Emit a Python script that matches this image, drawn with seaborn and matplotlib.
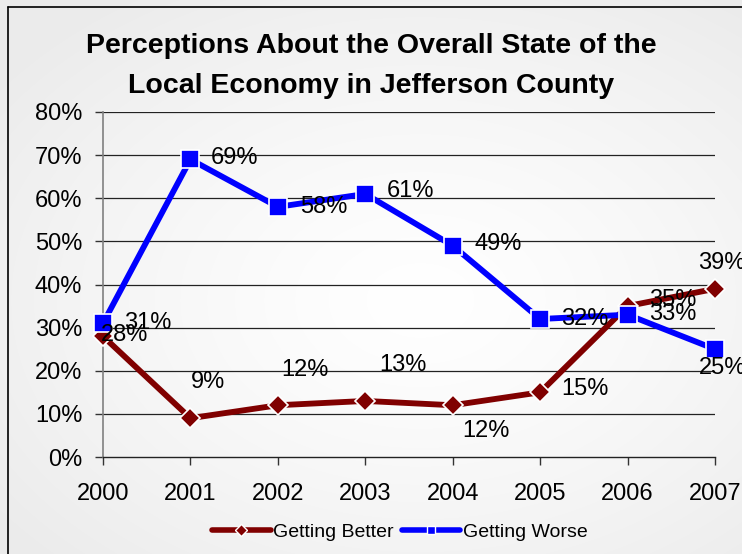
import numpy as np
import pandas as pd
import matplotlib
matplotlib.use("Agg")
import matplotlib.pyplot as plt
from matplotlib.lines import Line2D
import seaborn as sns

# Survey results (share of respondents)
years = ["2000", "2001", "2002", "2003", "2004", "2005", "2006", "2007"]
getting_better = [28, 9, 12, 13, 12, 15, 35, 39]
getting_worse = [31, 69, 58, 61, 49, 32, 33, 25]
y_ticks = [0, 10, 20, 30, 40, 50, 60, 70, 80]
y_tick_labels = [f"{v}%" for v in y_ticks]

# Label placement (pixel offsets from each point)
better_offsets = [(22, 1), (18, 36), (27, 35), (38, 36), (33, -26), (45, 3), (45, 6), (7, 26)]
worse_offsets = [(45, 0), (44, 1), (46, 0), (45, 3), (45, 2), (45, 0), (45, 1), (8, -19)]

sns.set_theme(style="white")
plt.rcParams["font.family"] = ["Liberation Sans", "DejaVu Sans"]
plt.rcParams["text.color"] = "black"

W, H = 742, 554
fig = plt.figure(figsize=(W / 100, H / 100), dpi=100)

# soft radial background: light centre fading to pale grey
bg = fig.add_axes([0, 0, 1, 1], zorder=-10)
yy, xx = np.mgrid[0:H, 0:W]
r = np.sqrt(((xx - 420) / 520.0) ** 2 + ((yy - 300) / 360.0) ** 2)
shade = 1.0 - 0.075 * np.clip(r, 0, 1) ** 1.3
bg.imshow(np.dstack([shade] * 3), aspect="auto", extent=[0, W, H, 0])
bg.plot([8, 8], [7, H], color="black", lw=1.2)
bg.plot([8, W], [7, 7], color="black", lw=1.2)
bg.set_xlim(0, W)
bg.set_ylim(H, 0)
bg.axis("off")

ax = fig.add_axes([103 / W, 1 - 457 / H, (715 - 103) / W, (457 - 112) / H])
ax.patch.set_alpha(0)

df = pd.DataFrame({
    "idx": np.arange(len(years)),
    "better": getting_better,
    "worse": getting_worse,
})

better_color = "#800000"
worse_color = "#0000FF"

sns.lineplot(data=df, x="idx", y="worse", ax=ax, color=worse_color, lw=4.2,
             marker="s", markersize=13, markeredgecolor="white", markeredgewidth=1.2,
             zorder=4, clip_on=False)
sns.lineplot(data=df, x="idx", y="better", ax=ax, color=better_color, lw=4.2,
             marker="D", markersize=10, markeredgecolor="white", markeredgewidth=1.2,
             zorder=3, clip_on=False)

label_kw = dict(textcoords="offset pixels", ha="center", va="center",
                fontsize=17, color="black", zorder=6, annotation_clip=False)
for i, v in enumerate(getting_better):
    ax.annotate(f"{v}%", (i, v), xytext=better_offsets[i], **label_kw)
for i, v in enumerate(getting_worse):
    ax.annotate(f"{v}%", (i, v), xytext=worse_offsets[i], **label_kw)

ax.set_xlim(0, len(years) - 1)
ax.set_ylim(0, 80)
ax.set_xticks(np.arange(len(years)))
ax.set_xticklabels(years, fontsize=17)
ax.set_yticks(y_ticks)
ax.set_yticklabels(y_tick_labels, fontsize=17)
ax.set_xlabel("")
ax.set_ylabel("")

for yv in y_ticks[1:]:
    ax.axhline(yv, color="#222222", lw=0.9, zorder=1)

for side in ["top", "right"]:
    ax.spines[side].set_visible(False)
ax.spines["left"].set_color("#808080")
ax.spines["left"].set_linewidth(1.2)
ax.spines["bottom"].set_color("#222222")
ax.spines["bottom"].set_linewidth(1.0)
ax.tick_params(axis="both", direction="out", length=6, width=1, color="#333333",
               left=True, bottom=True, labelcolor="black")
ax.tick_params(axis="y", pad=9)
ax.tick_params(axis="x", pad=13)

fig.text(0.5, 1 - 46 / H, "Perceptions About the Overall State of the",
         ha="center", va="center", fontsize=20.5, fontweight="bold", color="black")
fig.text(0.5, 1 - 86 / H, "Local Economy in Jefferson County",
         ha="center", va="center", fontsize=20.5, fontweight="bold", color="black")

handles = [
    Line2D([], [], color=better_color, lw=4, marker="D", markersize=6,
           markeredgecolor="white", markeredgewidth=1),
    Line2D([], [], color=worse_color, lw=4, marker="s", markersize=6,
           markeredgecolor="white", markeredgewidth=1),
]
leg = fig.legend(handles, ["Getting Better", "Getting Worse"], loc="center",
                 bbox_to_anchor=(400 / W, 1 - 532 / H), ncol=2, frameon=False,
                 fontsize=14, handlelength=3.0, handletextpad=0.15, columnspacing=0.4)
for t in leg.get_texts():
    t.set_color("black")

fig.savefig("out.png", dpi=100)
